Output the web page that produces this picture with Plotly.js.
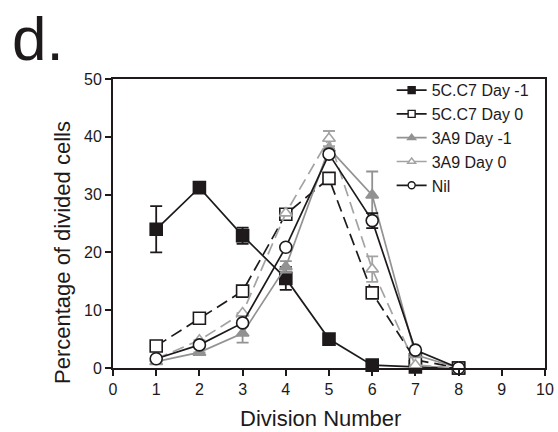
<!DOCTYPE html>
<html><head><meta charset="utf-8">
<script src="https://cdn.plot.ly/plotly-3.0.1.min.js"></script>
<style>html,body{margin:0;padding:0;background:#fff}#chart{width:558px;height:432px}</style>
</head><body><div id="chart"></div>
<script>
const divisions = [1, 2, 3, 4, 5, 6, 7, 8];
const seriesNames = ["5C.C7 Day -1", "5C.C7 Day 0", "3A9 Day -1", "3A9 Day 0", "Nil"];
const c57DayM1 = [24.0, 31.2, 22.9, 15.5, 5.0, 0.5, 0.2, 0];
const c57DayM1Err = [4.0, 0, 1.4, 2.0, 0, 0, 0, 0];
const c57Day0 = [3.8, 8.6, 13.3, 26.6, 32.8, 13.0, 1.4, 0];
const c57Day0Err = [0, 0, 0, 0, 0, 0, 0, 0];
const a39DayM1 = [1.1, 2.7, 6.0, 17.5, 38.0, 29.9, 2.3, 0];
const a39DayM1Err = [0, 0, 1.6, 1.0, 0, 4.1, 0, 0];
const a39Day0 = [1.6, 4.8, 9.5, 26.8, 39.7, 17.1, 0.5, 0];
const a39Day0Err = [0, 0, 0, 0, 1.3, 2.2, 0, 0];
const nil = [1.6, 4.0, 7.8, 20.9, 37.0, 25.5, 3.1, 0];
const nilErr = [0, 0, 0, 0, 0, 1.3, 0, 0];
const xTicks = [0, 1, 2, 3, 4, 5, 6, 7, 8, 9, 10];
const yTicks = [0, 10, 20, 30, 40, 50];

const BLACK = '#1e1a1b', GRAY = '#929292', LGRAY = '#a3a3a3';
const styles = [
  {lc: BLACK, dash: 'solid', sym: 'square', mc: BLACK, ml: BLACK, size: 12},
  {lc: BLACK, dash: '12px,6px', sym: 'square', mc: '#ffffff', ml: BLACK, size: 12},
  {lc: GRAY, dash: 'solid', sym: 'triangle-up', mc: GRAY, ml: GRAY, size: 11},
  {lc: LGRAY, dash: '12px,6px', sym: 'triangle-up', mc: '#ffffff', ml: LGRAY, size: 11},
  {lc: BLACK, dash: 'solid', sym: 'circle', mc: '#ffffff', ml: BLACK, size: 12}
];
const ys = [c57DayM1, c57Day0, a39DayM1, a39Day0, nil];
const errs = [c57DayM1Err, c57Day0Err, a39DayM1Err, a39Day0Err, nilErr];

const data = [];
ys.forEach((y, i) => {
  const s = styles[i];
  data.push({
    x: divisions, y: y, name: seriesNames[i], type: 'scatter', mode: 'lines+markers', showlegend: false,
    line: {color: s.lc, width: 1.7, dash: s.dash},
    marker: {symbol: s.sym, size: s.size, color: s.mc, line: {color: s.ml, width: 1.6}},
    error_y: {type: 'data', array: errs[i], visible: true, color: s.lc, thickness: 1.8, width: 6},
    cliponaxis: false
  });
});
// legend entries (no points), with small legend markers
ys.forEach((y, i) => {
  const s = styles[i];
  data.push({
    x: [null], y: [null], name: seriesNames[i], type: 'scatter', mode: 'lines+markers', showlegend: true,
    line: {color: s.lc, width: 1.7},
    marker: {symbol: s.sym, size: 7, color: s.mc, line: {color: s.ml, width: 1.4}}
  });
});
const FONT = 'Liberation Sans, Arial, sans-serif';
const layout = {
  width: 558, height: 432,
  margin: {l: 113, r: 13, t: 79, b: 64},
  paper_bgcolor: '#fff', plot_bgcolor: '#fff',
  font: {family: FONT, color: BLACK},
  showlegend: true,
  legend: {x: 0.645, xanchor: 'left', y: 1.02, yanchor: 'top', bgcolor: 'rgba(0,0,0,0)',
           font: {size: 16, family: FONT, color: BLACK}, tracegroupgap: 0, itemwidth: 30},
  xaxis: {range: [0, 10], tickvals: xTicks, ticktext: xTicks.map(String), ticks: 'outside', ticklen: 6,
          tickwidth: 2, tickcolor: BLACK, showline: true, linewidth: 2, linecolor: BLACK, mirror: true,
          showgrid: false, zeroline: false, tickfont: {size: 16, family: FONT, color: BLACK}},
  yaxis: {range: [0, 50], tickvals: yTicks, ticktext: yTicks.map(String), ticks: 'outside', ticklen: 6,
          tickwidth: 2, tickcolor: BLACK, showline: true, linewidth: 2, linecolor: BLACK, mirror: true,
          showgrid: false, zeroline: false, tickfont: {size: 16, family: FONT, color: BLACK}},
  annotations: [
    {text: 'd.', xref: 'paper', yref: 'paper', x: (10 - 113) / 432, y: (368 - 2) / 289, xanchor: 'left', yanchor: 'top',
     showarrow: false, font: {size: 62, family: FONT, color: BLACK}},
    {text: 'Division Number', xref: 'paper', yref: 'paper', x: (320 - 113) / 432, y: (368 - 418) / 289,
     xanchor: 'center', yanchor: 'middle', showarrow: false, font: {size: 22, family: FONT, color: BLACK}},
    {text: 'Percentage of divided cells', xref: 'paper', yref: 'paper', x: (62 - 113) / 432, y: (368 - 253) / 289,
     xanchor: 'center', yanchor: 'middle', textangle: -90, showarrow: false, font: {size: 22, family: FONT, color: BLACK}}
  ]
};
Plotly.newPlot('chart', data, layout, {staticPlot: true, displayModeBar: false});
</script></body></html>
